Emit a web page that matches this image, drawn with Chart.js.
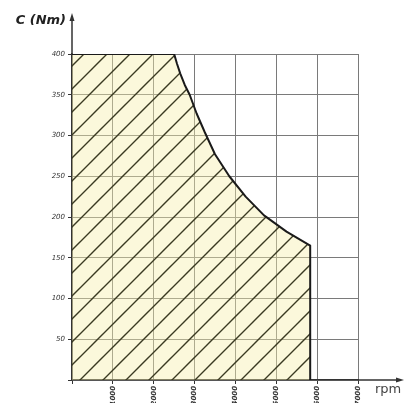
<!DOCTYPE html>
<html>
<head>
<meta charset="utf-8">
<script src="https://cdn.jsdelivr.net/npm/chart.js@4/dist/chart.umd.min.js"></script>
<style>
  html, body { margin: 0; padding: 0; background: #fff; }
  #wrap { width: 408px; height: 403px; }
</style>
</head>
<body>
<div id="wrap"><canvas id="myChart"></canvas></div>
<script>
// torque curve (rpm / Nm)
const rpm    = [0,   2500, 2570, 2650, 2760, 2880, 3050, 3250, 3500, 3850, 4250, 4700, 5250, 5830, 5830]
const torque = [400, 400,  388,  376,  362,  350,  327,  304,  277,  250,  225,  202,  182,  165,  0]
const xTicks = [1000, 2000, 3000, 4000, 5000, 6000, 7000]
const yTicks = [50, 100, 150, 200, 250, 300, 350, 400]

const makeHatch = () => {
    const c = document.createElement('canvas')
    c.width = 23
    c.height = 23
    const g = c.getContext('2d')
    g.fillStyle = 'rgba(245, 238, 170, 0.42)'
    g.fillRect(0, 0, 23, 23)
    g.strokeStyle = '#3a3a22'
    g.lineWidth = 1.4
    g.beginPath()
    g.moveTo(-2, 25); g.lineTo(25, -2)
    g.moveTo(-2, 2); g.lineTo(2, -2)
    g.moveTo(21, 25); g.lineTo(25, 21)
    g.stroke()
    return g.createPattern(c, 'repeat')
}

const axisDecor = {
    id: 'axisDecor',
    afterDraw(chart) {
        const {ctx, chartArea} = chart
        const x0 = chartArea.left, y0 = chartArea.bottom
        ctx.save()
        ctx.strokeStyle = '#333'
        ctx.fillStyle = '#333'
        ctx.lineWidth = 1.5
        // axis extensions
        ctx.beginPath()
        ctx.moveTo(x0, chartArea.top); ctx.lineTo(x0, 17)
        ctx.moveTo(chartArea.right, y0); ctx.lineTo(401, y0)
        ctx.stroke()
        // arrow heads
        ctx.beginPath()
        ctx.moveTo(x0, 13); ctx.lineTo(x0 - 2.5, 21); ctx.lineTo(x0 + 2.5, 21); ctx.closePath()
        ctx.moveTo(404, y0); ctx.lineTo(396, y0 - 2.5); ctx.lineTo(396, y0 + 2.5); ctx.closePath()
        ctx.fill()
        // axis titles
        ctx.fillStyle = '#222'
        ctx.font = 'italic bold 13px "DejaVu Sans"'
        ctx.textAlign = 'right'
        ctx.textBaseline = 'middle'
        ctx.fillText('C (Nm)', 66, 21)
        ctx.font = '13px "DejaVu Sans"'
        ctx.fillStyle = '#444'
        ctx.textAlign = 'left'
        ctx.fillText('rpm', 375, 390)
        ctx.restore()
    }
}

const grData = {
    datasets: [{
        data: rpm.map((r, i) => ({x: r, y: torque[i]})),
        borderColor: '#1a1a1a',
        borderWidth: 2,
        borderJoinStyle: 'round',
        backgroundColor: makeHatch(),
        fill: 'origin',
        pointRadius: 0,
        tension: 0
    }]
}

const config = {
    type: 'line',
    data: grData,
    options: {
        responsive: true,
        maintainAspectRatio: false,
        animation: false,
        layout: {padding: {top: 54, right: 50, left: 0, bottom: 0}},
        plugins: {legend: {display: false}, tooltip: {enabled: false}},
        scales: {
            x: {
                type: 'linear',
                min: 0,
                max: 7000,
                afterFit: (s) => { s.height = 23 },
                afterBuildTicks: (s) => { s.ticks = [0, ...xTicks].map(v => ({value: v})) },
                grid: {color: '#7a7a7a', lineWidth: 1, tickLength: 4, tickColor: '#333'},
                border: {color: '#333', width: 1.5},
                ticks: {
                    minRotation: 90,
                    maxRotation: 90,
                    padding: 2,
                    color: '#333',
                    font: {size: 7, style: 'italic', weight: 'bold', family: 'DejaVu Sans'},
                    callback: (v) => v === 0 ? '' : v
                }
            },
            y: {
                min: 0,
                max: 400,
                afterFit: (s) => { s.width = 72 },
                afterBuildTicks: (s) => { s.ticks = [0, ...yTicks].map(v => ({value: v})) },
                grid: {color: '#7a7a7a', lineWidth: 1, tickLength: 4, tickColor: '#333'},
                border: {color: '#333', width: 1.5},
                ticks: {
                    padding: 3,
                    color: '#333',
                    font: {size: 7, style: 'italic', family: 'DejaVu Sans'},
                    callback: (v) => v === 0 ? '' : v
                }
            }
        }
    },
    plugins: [axisDecor]
}

const myChart = new Chart(document.getElementById('myChart'), config)
</script>
</body>
</html>
